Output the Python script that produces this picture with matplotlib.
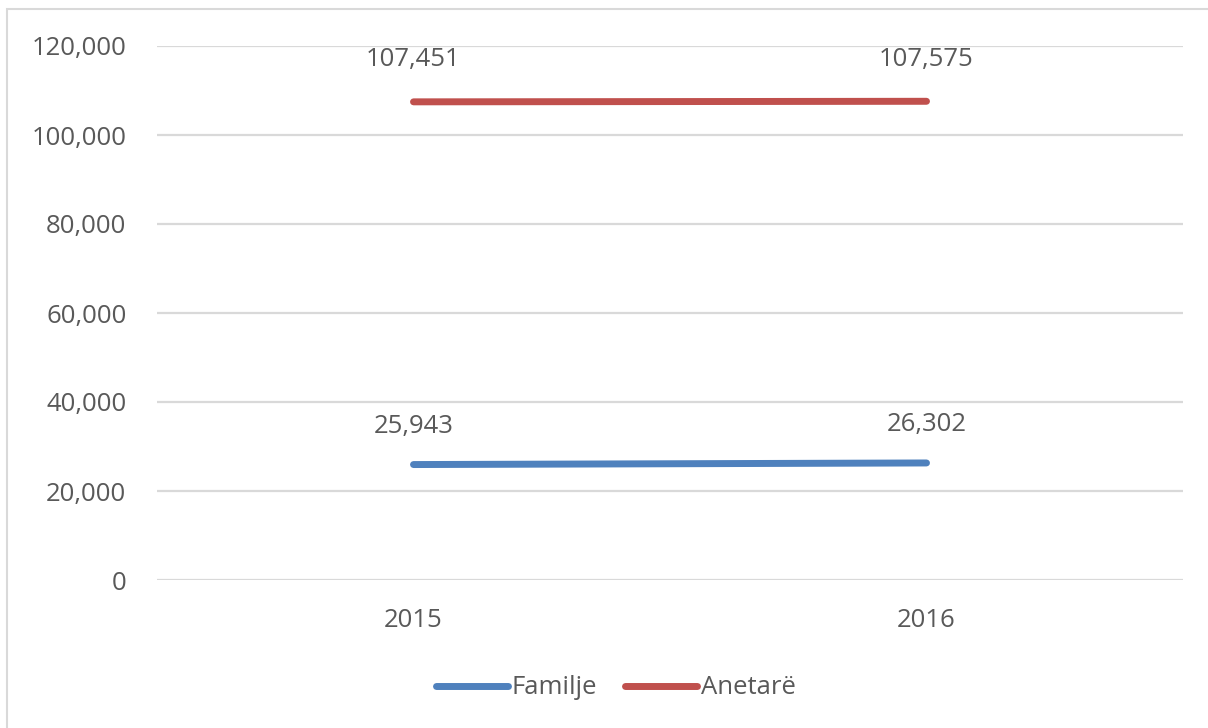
import matplotlib
matplotlib.use("Agg")
import matplotlib.pyplot as plt
from matplotlib.patches import Rectangle
from matplotlib.ticker import FuncFormatter

years = ["2015", "2016"]
familje = [25943, 26302]
anetare = [107451, 107575]
series_names = ["Familje", "Anetarë"]
yticks = [0, 20000, 40000, 60000, 80000, 100000, 120000]

plt.rcParams['font.family'] = ['Open Sans', 'DejaVu Sans']
TXT = '#595959'
FS = 18.5

fig = plt.figure(figsize=(12.08, 7.28), dpi=100)
ax = fig.add_axes([157/1208, 1 - 580/728, (1183 - 157)/1208, (580 - 46)/728])

x = [0.5, 1.5]
colors = ['#4F81BD', '#C0504D']
offsets = [38, 42]
for vals, name, c, off in zip([familje, anetare], series_names, colors, offsets):
    ax.plot(x, vals, color=c, lw=5, solid_capstyle='round', label=name, zorder=3)
    for xi, v in zip(x, vals):
        ax.annotate(f"{v:,}", (xi, v), xytext=(0, off * 72 / 100), textcoords='offset points',
                    ha='center', va='center', fontsize=FS, color=TXT)

ax.set_xlim(0, 2)
ax.set_ylim(0, 120000)
ax.set_yticks(yticks)
ax.yaxis.set_major_formatter(FuncFormatter(lambda v, p: f"{int(v):,}"))
ax.set_xticks(x)
ax.set_xticklabels(years)
ax.tick_params(axis='y', length=0, pad=22, labelsize=FS, labelcolor=TXT)
ax.tick_params(axis='x', length=0, pad=20, labelsize=FS, labelcolor=TXT)
ax.grid(axis='y', color='#D9D9D9', lw=1.6, zorder=0)
for s in ax.spines.values():
    s.set_visible(False)
ax.set_axisbelow(True)

leg = fig.legend(loc='center', bbox_to_anchor=(616/1208, 1 - 688/728), ncol=2, frameon=False,
                 fontsize=FS, handlelength=2.8, handletextpad=0.15, columnspacing=1.1,
                 labelcolor=TXT)

fig.add_artist(Rectangle((7/1208, -0.05), 1.1, (1 - 9/728) + 0.05, transform=fig.transFigure,
                         fill=False, edgecolor='#D9D9D9', lw=1.5))

fig.savefig("out.png", dpi=100, facecolor='white')
